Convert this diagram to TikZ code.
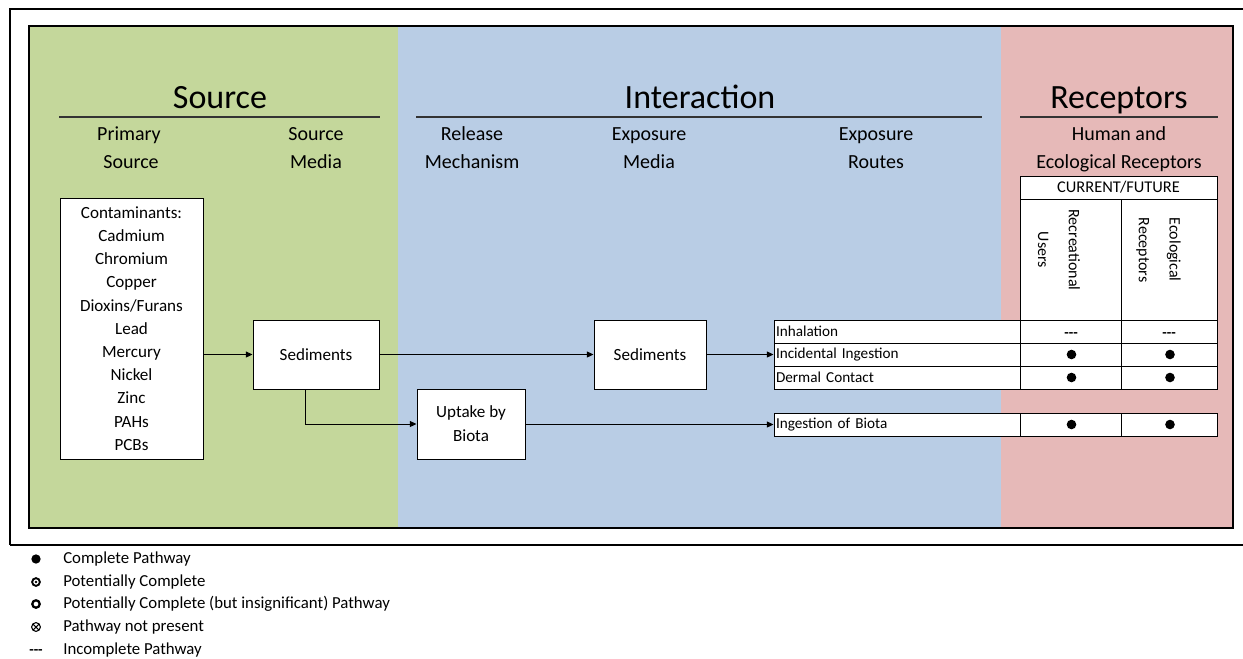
\documentclass[tikz,border=0pt]{standalone}
\usepackage{fontspec}
\setmainfont{Carlito}
\usetikzlibrary{arrows.meta,calc}
\definecolor{srcgreen}{HTML}{C4D79B}
\definecolor{intblue}{HTML}{B9CDE5}
\definecolor{recpink}{HTML}{E6B9B8}
\begin{document}
\begin{tikzpicture}[x=0.75pt,y=-0.75pt,
  box/.style={draw, fill=white, line width=0.75pt, inner sep=0pt, align=center,
    font=\fontsize{12.8}{18}\selectfont},
  route/.style={draw, fill=white, line width=0.75pt, inner xsep=1.5pt, inner ysep=0pt,
    text width=181.5pt, minimum height=17.25pt, align=left,
    font=\fontsize{11.4}{13}\selectfont},
  cellA/.style={draw, fill=white, line width=0.75pt, inner sep=0pt,
    minimum width=75.75pt, minimum height=17.25pt},
  cellB/.style={draw, fill=white, line width=0.75pt, inner sep=0pt,
    minimum width=72pt, minimum height=17.25pt},
  heading/.style={anchor=base, font=\fontsize{25.5}{30}\selectfont},
  subhead/.style={anchor=base, font=\fontsize{15}{18}\selectfont},
  legendtxt/.style={anchor=west, inner sep=0pt, font=\fontsize{12.6}{14}\selectfont},
  vtext/.style={rotate=-90, inner sep=0pt, font=\fontsize{12}{23}\selectfont},
  dashes/.style={inner sep=0pt, font=\fontsize{11}{13}\bfseries},
  arr/.style={-{Triangle[length=5pt,width=4.5pt]}, line width=0.75pt},
  rule/.style={line width=0.8pt, black!80}
]
\useasboundingbox (0,0) rectangle (1243,658);
% outer frame
\draw[line width=1.1pt] (1243,9) -- (10,9) -- (10,545);
\draw[line width=1.5pt] (10,545) -- (1243,545);
% coloured panels
\fill[srcgreen] (29,26) rectangle (398,528);
\fill[intblue] (398,26) rectangle (1001,528);
\fill[recpink] (1001,26) rectangle (1233,528);
\draw[line width=1pt] (29,26) rectangle (1233,528);

% headings
\node[heading] (hsrc) at (220,108) {Source};
\node[heading] (hint) at (700,108) {Interaction};
\node[heading] (hrec) at (1119,108) {Receptors};
\draw[rule] (59,117) -- (380,117);
\draw[rule] (416,117) -- (982,117);
\draw[rule] (1020,117) -- (1218,117);

\node[subhead] (ps1) at (129,140) {Primary};
\node[subhead] (ps2) at (131,168) {Source};
\node[subhead] (sm1) at (316,140) {Source};
\node[subhead] (sm2) at (316,168) {Media};
\node[subhead] (rm1) at (472,140) {Release};
\node[subhead] (rm2) at (472,168) {Mechanism};
\node[subhead] (em1) at (649,140) {Exposure};
\node[subhead] (em2) at (649,168) {Media};
\node[subhead] (er1) at (876,140) {Exposure};
\node[subhead] (er2) at (876,168) {Routes};
\node[subhead] (hr1) at (1119,140) {Human and};
\node[subhead] (hr2) at (1119,168) {Ecological Receptors};

% boxes
\node[box, minimum width=107.25pt, minimum height=195.75pt,
  font=\fontsize{12.8}{17.4}\selectfont] (contam) at (131.5,328.5)
  {Contaminants:\\Cadmium\\Chromium\\Copper\\Dioxins/Furans\\Lead\\Mercury\\Nickel\\Zinc\\PAHs\\PCBs};
\node[box, minimum width=94.5pt, minimum height=51.75pt] (sed1) at (316,354.5) {Sediments};
\node[box, minimum width=84pt, minimum height=51.75pt] (sed2) at (650,354.5) {Sediments};
\node[box, minimum width=81pt, minimum height=52.5pt] (uptake) at (471,424) {Uptake by\\Biota};

% receptor table
\node[draw, fill=white, line width=0.75pt, inner sep=0pt, minimum width=147.75pt,
  minimum height=17.25pt, font=\fontsize{12.3}{14}\selectfont] (cf) at (1118.5,187.5) {CURRENT/FUTURE};
\node[cellA, minimum height=90.75pt] (hc1) at (1070.5,259.5) {};
\node[cellB, minimum height=90.75pt] (hc2) at (1169,259.5) {};
\node[vtext, align=center] (rec1) at (1059,250) {Recreational\\Users};
\node[vtext, align=left] (rec2) at (1158.5,250) {Ecological\\Receptors};

% exposure routes rows
\node[route] (inh) at (897,331.5) {Inhalation};
\node[route] (inc) at (897,354.5) {Incidental Ingestion};
\node[route] (der) at (897,377.5) {Dermal Contact};
\node[route] (bio) at (897,424.5) {Ingestion of Biota};
\node[cellA] (a1) at (1070.5,331.5) {};
\node[cellB] (b1) at (1169,331.5) {};
\node[cellA] (a2) at (1070.5,354.5) {};
\node[cellB] (b2) at (1169,354.5) {};
\node[cellA] (a3) at (1070.5,377.5) {};
\node[cellB] (b3) at (1169,377.5) {};
\node[cellA] (a4) at (1070.5,424.5) {};
\node[cellB] (b4) at (1169,424.5) {};
\node[dashes] (d1) at (1071,335) {-{}-{}-};
\node[dashes] (d2) at (1169,335) {-{}-{}-};
\foreach \c in {a2,b2,a3,b3,a4,b4}{\fill ($(\c.center)+(1,0)$) circle[radius=3.6pt];}

% connectors
\draw[arr] (contam.east |- sed1.west) -- (sed1.west);
\draw[arr] (sed1.east) -- (sed2.west);
\draw[arr] (sed2.east) -- (inc.west);
\draw[arr] ($(sed1.south)+(-11,0)$) |- (uptake.west);
\draw[arr] (uptake.east |- bio.west) -- (bio.west);

% legend
\fill (36,559) circle[radius=3.5pt];
\draw[line width=1.4pt] (36,582) circle[radius=2.9pt];
\fill (36,582) circle[radius=1pt];
\draw[line width=1.7pt] (36,604) circle[radius=2.8pt];
\draw[line width=0.8pt] (36,627) circle[radius=3.3pt];
\draw[line width=0.8pt] ($(36,627)+(-2.2pt,-2.2pt)$) -- ($(36,627)+(2.2pt,2.2pt)$);
\draw[line width=0.8pt] ($(36,627)+(-2.2pt,2.2pt)$) -- ($(36,627)+(2.2pt,-2.2pt)$);
\node[dashes] (ld) at (36,652) {-{}-{}-};
\node[legendtxt] (l1) at (63,559) {Complete Pathway};
\node[legendtxt] (l2) at (63,582) {Potentially Complete};
\node[legendtxt] (l3) at (63,604) {Potentially Complete (but insignificant) Pathway};
\node[legendtxt] (l4) at (63,627) {Pathway not present};
\node[legendtxt] (l5) at (63,650) {Incomplete Pathway};
\end{tikzpicture}
\end{document}
